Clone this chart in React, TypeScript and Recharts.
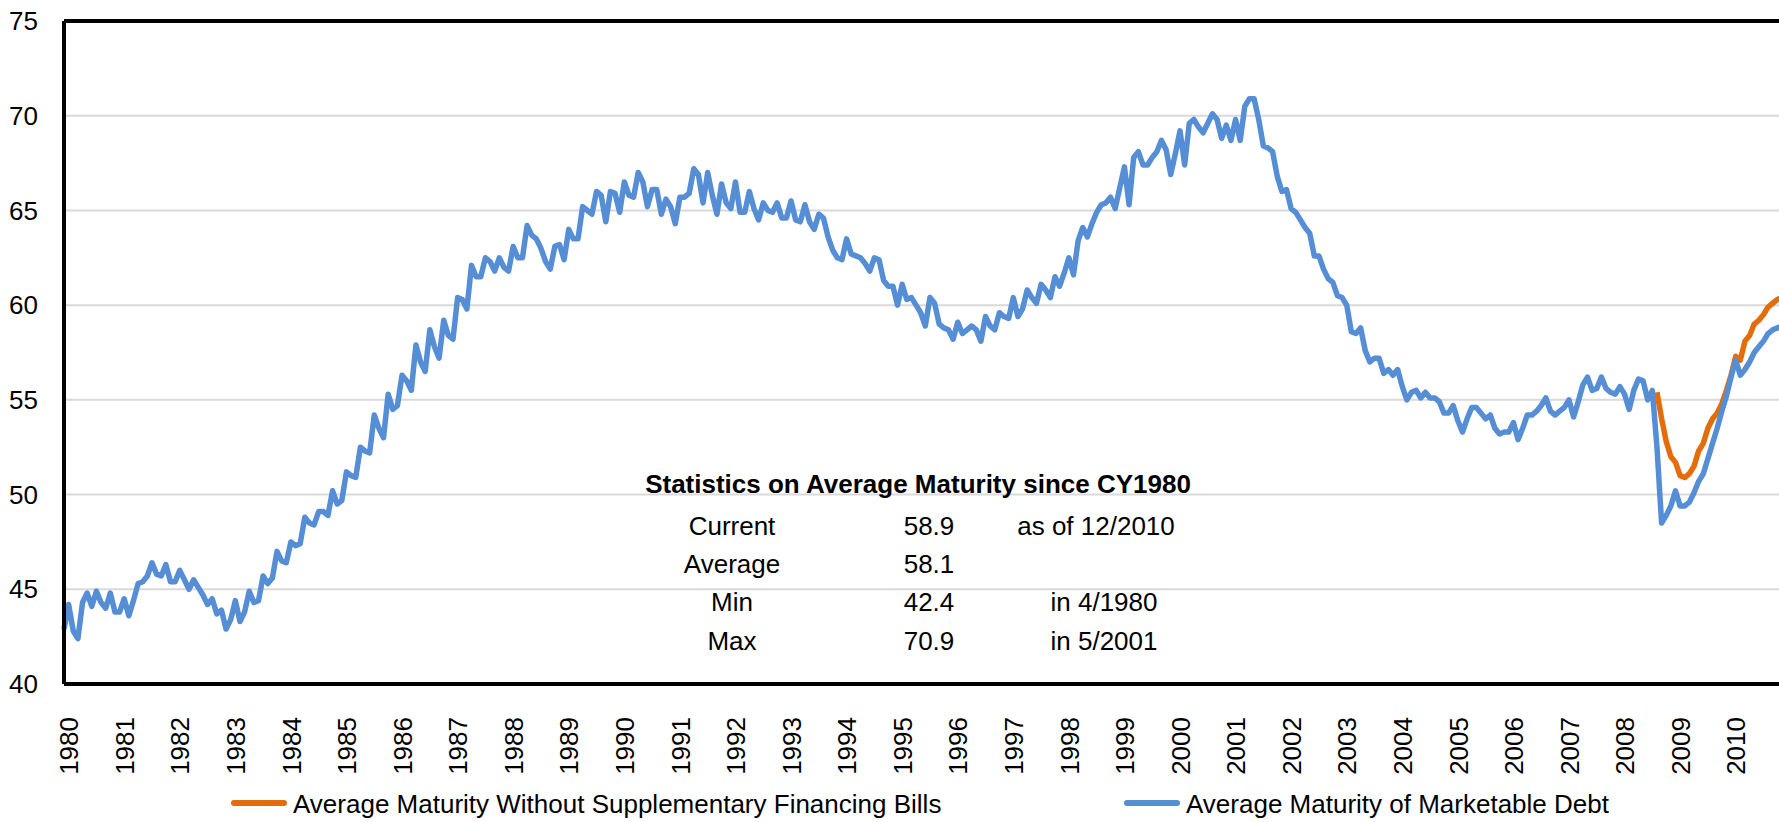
import React from "react";
import {
  LineChart,
  Line,
  XAxis,
  YAxis,
  CartesianGrid,
  ReferenceLine,
} from "recharts";

// month-end average maturity of marketable debt (months), Jan 1980 - Dec 2010
const years = Array.from({ length: 31 }, (_, k) => String(1980 + k));

const marketableDebt = [
  42.9, 44.2, 42.8, 42.4, 44.3, 44.8, 44.1, 44.9, 44.3, 44.0, 44.8, 43.8,
  43.8, 44.5, 43.6, 44.4, 45.3, 45.4, 45.7, 46.4, 45.8, 45.7, 46.3, 45.4,
  45.4, 46.0, 45.5, 45.0, 45.5, 45.1, 44.7, 44.2, 44.5, 43.7, 43.9, 42.9,
  43.4, 44.4, 43.3, 43.8, 44.9, 44.3, 44.4, 45.7, 45.3, 45.6, 47.0, 46.5,
  46.4, 47.5, 47.3, 47.4, 48.8, 48.5, 48.4, 49.1, 49.1, 48.9, 50.2, 49.5,
  49.7, 51.2, 51.0, 50.9, 52.5, 52.3, 52.2, 54.2, 53.5, 53.0, 55.3, 54.5,
  54.7, 56.3, 56.0, 55.5, 57.9, 57.0, 56.5, 58.7, 57.8, 57.2, 59.2, 58.4,
  58.2, 60.4, 60.3, 59.8, 62.1, 61.5, 61.5, 62.5, 62.3, 61.8, 62.5, 62.0,
  61.8, 63.1, 62.5, 62.5, 64.2, 63.7, 63.5, 63.0, 62.3, 61.9, 63.1, 63.2,
  62.4, 64.0, 63.5, 63.5, 65.2, 65.0, 64.8, 66.0, 65.8, 64.4, 66.0, 65.9,
  64.9, 66.5, 65.8, 65.7, 67.0, 66.5, 65.2, 66.1, 66.1, 64.8, 65.6, 65.2,
  64.3, 65.7, 65.7, 65.9, 67.2, 66.9, 65.4, 67.0, 65.8, 64.8, 66.4, 65.4,
  65.1, 66.5, 64.9, 64.9, 66.0, 65.1, 64.5, 65.4, 65.0, 64.9, 65.4, 64.6,
  64.6, 65.5, 64.5, 64.4, 65.3, 64.4, 64.0, 64.8, 64.6, 63.6, 62.9, 62.5,
  62.4, 63.5, 62.7, 62.6, 62.5, 62.2, 61.8, 62.5, 62.4, 61.3, 61.0, 61.0,
  60.0, 61.1, 60.3, 60.4, 60.0, 59.6, 58.9, 60.4, 60.1, 59.0, 58.8, 58.7,
  58.2, 59.1, 58.5, 58.7, 58.9, 58.7, 58.1, 59.4, 58.9, 58.7, 59.6, 59.4,
  59.3, 60.4, 59.4, 59.8, 60.8, 60.4, 60.1, 61.1, 60.8, 60.4, 61.5, 61.0,
  61.7, 62.5, 61.6, 63.4, 64.1, 63.6, 64.3, 64.9, 65.3, 65.4, 65.7, 65.1,
  66.2, 67.3, 65.3, 67.8, 68.1, 67.4, 67.4, 67.8, 68.1, 68.7, 68.2, 66.9,
  68.0, 69.2, 67.4, 69.6, 69.8, 69.4, 69.1, 69.6, 70.1, 69.8, 68.8, 69.5,
  68.7, 69.8, 68.7, 70.5, 70.9, 70.9, 69.8, 68.4, 68.3, 68.1, 66.8, 66.0,
  66.1, 65.1, 64.9, 64.5, 64.1, 63.8, 62.6, 62.6, 61.9, 61.4, 61.2, 60.5,
  60.4, 60.0, 58.6, 58.5, 58.8, 57.6, 57.0, 57.2, 57.2, 56.4, 56.6, 56.3,
  56.6, 55.7, 55.0, 55.4, 55.5, 55.1, 55.4, 55.1, 55.1, 54.9, 54.3, 54.3,
  54.7, 53.9, 53.3, 54.0, 54.6, 54.6, 54.3, 54.0, 54.2, 53.5, 53.2, 53.3,
  53.3, 53.8, 52.9, 53.5, 54.2, 54.2, 54.4, 54.7, 55.1, 54.4, 54.2, 54.4,
  54.6, 55.0, 54.1, 54.9, 55.8, 56.2, 55.5, 55.6, 56.2, 55.6, 55.4, 55.3,
  55.7, 55.3, 54.5, 55.5, 56.1, 56.0, 55.0, 55.5, 52.5, 48.5, 48.9, 49.4,
  50.2, 49.4, 49.4, 49.6, 50.1, 50.7, 51.1, 51.9, 52.7, 53.5, 54.4, 55.2,
  56.2, 57.1, 56.3, 56.6, 57.0, 57.5, 57.8, 58.1, 58.5, 58.7, 58.8, 58.9,
];

// without supplementary financing bills, Sep 2008 - Dec 2010
const sfbStart = "2008-09";
const withoutSfb = [
  55.4, 54.0, 52.8, 52.0, 51.7, 51.0, 50.9, 51.1, 51.5, 52.3, 52.7, 53.5,
  54.0, 54.3, 54.8, 55.5, 56.3, 57.3, 57.1, 58.1, 58.4, 59.0, 59.2, 59.5,
  59.9, 60.1, 60.3, 60.4,
];

const yTicks = [40, 45, 50, 55, 60, 65, 70, 75];

const statsTitle = "Statistics on Average Maturity since CY1980";
const statsRows = [
  ["Current", "58.9", "as of 12/2010"],
  ["Average", "58.1", ""],
  ["Min", "42.4", "in 4/1980"],
  ["Max", "70.9", "in 5/2001"],
];

const BLUE = "#558ed5";
const ORANGE = "#e46c0a";
const FONT = "'Liberation Sans', Arial, sans-serif";
const FS = 26;

const months = years.flatMap((y) =>
  Array.from({ length: 12 }, (_, m) => `${y}-${String(m + 1).padStart(2, "0")}`)
);
const sfbIndex = months.indexOf(sfbStart);
const data = months.map((month, i) => ({
  month,
  debt: marketableDebt[i],
  noSfb: i >= sfbIndex ? withoutSfb[i - sfbIndex] : null,
}));

function YearTick({ x, payload }: any) {
  const top = 717;
  return (
    <text
      x={x}
      y={top}
      dy={FS * 0.36 + 5}
      transform={`rotate(-90 ${x} ${top})`}
      textAnchor="end"
      fontSize={FS}
      fontFamily={FONT}
      fill="#000"
    >
      {payload.value.slice(0, 4)}
    </text>
  );
}

function ValueTick({ y, payload }: any) {
  return (
    <text
      x={38}
      y={y}
      dy={FS * 0.35}
      textAnchor="end"
      fontSize={FS}
      fontFamily={FONT}
      fill="#000"
    >
      {payload.value}
    </text>
  );
}

function Txt({ cx, cy, bold, children }: any) {
  return (
    <div
      style={{
        position: "absolute",
        left: cx - 350,
        width: 700,
        top: cy - 16,
        height: 32,
        lineHeight: "32px",
        textAlign: "center",
        fontWeight: bold ? 700 : 400,
        whiteSpace: "nowrap",
      }}
    >
      {children}
    </div>
  );
}

function LegendItem({ x, color, label }: any) {
  return (
    <>
      <div
        style={{
          position: "absolute",
          left: x,
          top: 800,
          width: 56,
          height: 6,
          borderRadius: 3,
          background: color,
        }}
      />
      <div
        style={{
          position: "absolute",
          left: x + 62,
          top: 789,
          lineHeight: "30px",
          whiteSpace: "nowrap",
        }}
      >
        {label}
      </div>
    </>
  );
}

export default function App() {
  const rowY = [526, 564, 602, 641];
  return (
    <div
      style={{
        position: "absolute",
        left: 0,
        top: 0,
        width: 1779,
        height: 822,
        overflow: "hidden",
        background: "#fff",
        fontFamily: FONT,
        fontSize: FS,
        color: "#000",
      }}
    >
      <LineChart
        width={1792}
        height={822}
        data={data}
        margin={{ top: 21, right: 10, bottom: 0, left: 0 }}
      >
        <CartesianGrid vertical={false} stroke="#d9d9d9" strokeWidth={2} />
        <XAxis
          dataKey="month"
          interval={11}
          height={138}
          tickLine={false}
          axisLine={{ stroke: "#000", strokeWidth: 4 }}
          tick={<YearTick />}
        />
        <YAxis
          domain={[40, 75]}
          ticks={yTicks}
          width={64}
          tickLine={false}
          axisLine={{ stroke: "#000", strokeWidth: 4 }}
          tick={<ValueTick />}
        />
        <ReferenceLine y={75} stroke="#000" strokeWidth={4} />
        <Line
          type="linear"
          dataKey="noSfb"
          stroke={ORANGE}
          strokeWidth={5.5}
          dot={false}
          strokeLinejoin="round"
          isAnimationActive={false}
        />
        <Line
          type="linear"
          dataKey="debt"
          stroke={BLUE}
          strokeWidth={5.5}
          dot={false}
          strokeLinejoin="round"
          isAnimationActive={false}
        />
      </LineChart>

      <Txt cx={918} cy={484} bold>
        {statsTitle}
      </Txt>
      {statsRows.map((r, k) => (
        <React.Fragment key={r[0]}>
          <Txt cx={732} cy={rowY[k]}>{r[0]}</Txt>
          <Txt cx={929} cy={rowY[k]}>{r[1]}</Txt>
          {r[2] && <Txt cx={k === 0 ? 1096 : 1104} cy={rowY[k]}>{r[2]}</Txt>}
        </React.Fragment>
      ))}

      <LegendItem
        x={231}
        color={ORANGE}
        label="Average Maturity Without Supplementary Financing Bills"
      />
      <LegendItem x={1124} color={BLUE} label="Average Maturity of Marketable Debt" />
    </div>
  );
}
